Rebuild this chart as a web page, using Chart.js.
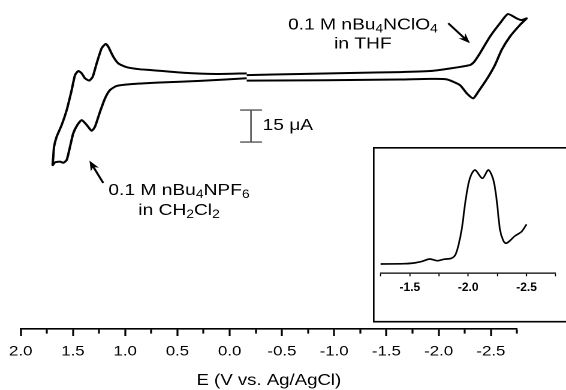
<!DOCTYPE html>
<html><head><meta charset="utf-8">
<script src="https://cdn.jsdelivr.net/npm/chart.js@4/dist/chart.umd.min.js"></script>
<style>
html,body{margin:0;padding:0;background:#fff;overflow:hidden;width:566px;height:390px;}
#main{position:absolute;left:0;top:0;width:472px;height:390px;transform:scaleX(1.19915);transform-origin:0 0;}
#inset{position:absolute;left:373px;top:147px;width:200px;height:176px;background:#fff;}
</style></head><body>
<div id="main"><canvas id="c1" width="472" height="390"></canvas></div>
<div id="inset"><canvas id="c2" width="200" height="176"></canvas></div>
<script>
// ---------- data (potential in V vs Ag/AgCl, current in µA) ----------
const ch2cl2Potential = [-0.163, 0.284, 0.667, 0.954, 1.081, 1.145, 1.193, 1.241, 1.289, 1.321, 1.368, 1.416, 1.458, 1.497, 1.528, 1.560, 1.592, 1.624, 1.672, 1.694,
  1.688, 1.681, 1.656, 1.608, 1.560, 1.512, 1.480, 1.449, 1.416, 1.385, 1.344, 1.311, 1.273, 1.225, 1.187, 1.162, 1.114, 1.066, 0.986, 0.858, 0.763, 0.444, 0.124, -0.163];
const ch2cl2Current = [-0.6, -1.8, -2.6, -3.4, -4.2, -6.1, -10.0, -16.3, -23.3, -25.2, -22.5, -20.2, -22.5, -26.4, -32.7, -38.9, -40.2, -39.7, -40.0, -41.3,
  -37.4, -32.7, -28.0, -22.5, -15.5, -6.1, 0.9, 2.8, 1.7, -0.6, -1.7, 0.1, 6.4, 13.5, 15.5, 14.2, 9.5, 6.4, 4.6, 3.6, 3.3, 2.0, 1.4, 1.7];

const thfPotential = [-0.163, -0.673, -1.151, -1.630, -1.917, -2.108, -2.300, -2.338, -2.395, -2.491, -2.587, -2.663, -2.746, -2.794, -2.842,
  -2.826, -2.778, -2.682, -2.603, -2.539, -2.475, -2.379, -2.331, -2.268, -2.204, -2.077, -1.917, -1.630, -1.151, -0.673, -0.163];
const thfCurrent = [0.9, 1.4, 1.9, 2.3, 2.8, 4.0, 5.6, 7.0, 11.1, 18.9, 25.2, 29.5, 27.5, 26.7, 27.5,
  26.7, 24.4, 18.9, 12.7, 5.6, 0.1, -6.9, -10.0, -7.6, -3.8, -1.1, -0.9, -1.2, -1.4, -1.6, -1.7];

const insetPotential = [-1.25, -1.449, -1.534, -1.606, -1.670, -1.733, -1.790, -1.855, -1.889, -1.917, -1.946, -1.974, -2.003, -2.032, -2.060, -2.122, -2.173, -2.216, -2.244, -2.273, -2.301, -2.324, -2.358, -2.400, -2.457, -2.500];
const insetCurrent = [9.3, 9.6, 10.3, 12.0, 14.3, 12.6, 14.0, 15.0, 18.3, 28.3, 45.0, 70.0, 90.0, 100.0, 103.3, 95.0, 103.3, 93.3, 73.3, 43.3, 32.6, 30.0, 32.6, 37.3, 41.6, 49.0];

const mainTickLabels = ['2.0', '1.5', '1.0', '0.5', '0.0', '-0.5', '-1.0', '-1.5', '-2.0', '-2.5'];
const insetTickLabels = ['-1.5', '-2.0', '-2.5'];

// scale bar: 15 µA
const scaleBarCurrent = 15;
const scaleBarPotential = -0.204;
const scaleBarBase = -30.5;

// ---------- helpers ----------
const FONT = '"Liberation Sans", Arial, Helvetica, sans-serif';
function pts(xs, ys) { return xs.map((v, i) => ({x: v, y: ys[i]})); }
function fmt(v) { return (Math.abs(v) < 1e-9 ? 0 : v).toFixed(1); }

const scaleBarData = [
  {x: scaleBarPotential + 0.105, y: scaleBarBase + scaleBarCurrent},
  {x: scaleBarPotential - 0.105, y: scaleBarBase + scaleBarCurrent},
  {x: scaleBarPotential, y: null},
  {x: scaleBarPotential, y: scaleBarBase + scaleBarCurrent},
  {x: scaleBarPotential, y: scaleBarBase},
  {x: scaleBarPotential, y: null},
  {x: scaleBarPotential + 0.105, y: scaleBarBase},
  {x: scaleBarPotential - 0.105, y: scaleBarBase}
];

const notes = [
  {lines: [[{t: '0.1 M nBu'}, {t: '4', sub: true}, {t: 'NClO'}, {t: '4', sub: true}], [{t: 'in THF'}]],
   x: -1.275, y: [22.36, 13.46], tail: [-2.092, 25.2], tip: [-2.300, 15.8]},
  {lines: [[{t: '0.1 M nBu'}, {t: '4', sub: true}, {t: 'NPF'}, {t: '6', sub: true}], [{t: 'in CH'}, {t: '2', sub: true}, {t: 'Cl'}, {t: '2', sub: true}]],
   x: 0.485, y: [-55.3, -64.7], tail: [1.210, -49.7], tip: [1.342, -39.2]}
];

function drawRich(ctx, segs, cx, by) {
  const base = '16px ' + FONT, small = '11.5px ' + FONT;
  let w = 0;
  segs.forEach(s => { ctx.font = s.sub ? small : base; w += ctx.measureText(s.t).width; });
  let x = cx - w / 2;
  ctx.textAlign = 'left'; ctx.textBaseline = 'alphabetic';
  segs.forEach(s => {
    ctx.font = s.sub ? small : base;
    ctx.fillText(s.t, x, by + (s.sub ? 3 : 0));
    x += ctx.measureText(s.t).width;
  });
}
function drawArrow(ctx, x1, y1, x2, y2) {
  const a = Math.atan2(y2 - y1, x2 - x1), L = 10, H = 3.8;
  const c = Math.cos(a), s = Math.sin(a);
  ctx.lineWidth = 1.8; ctx.strokeStyle = '#000'; ctx.fillStyle = '#000';
  ctx.beginPath(); ctx.moveTo(x1, y1); ctx.lineTo(x2 - c * 6, y2 - s * 6); ctx.stroke();
  ctx.beginPath();
  ctx.moveTo(x2, y2);
  ctx.lineTo(x2 - c * L - s * H, y2 - s * L + c * H);
  ctx.lineTo(x2 - c * L * 0.7, y2 - s * L * 0.7);
  ctx.lineTo(x2 - c * L + s * H, y2 - s * L - c * H);
  ctx.closePath(); ctx.fill();
}

const annotPlugin = {
  id: 'annot',
  afterDatasetsDraw(chart) {
    const {ctx} = chart, X = chart.scales.x, Y = chart.scales.y;
    ctx.save();
    ctx.fillStyle = '#000';
    notes.forEach(n => {
      n.lines.forEach((ln, i) => drawRich(ctx, ln, X.getPixelForValue(n.x), Y.getPixelForValue(n.y[i])));
      drawArrow(ctx, X.getPixelForValue(n.tail[0]), Y.getPixelForValue(n.tail[1]), X.getPixelForValue(n.tip[0]), Y.getPixelForValue(n.tip[1]));
    });
    ctx.font = '16px ' + FONT; ctx.textAlign = 'left'; ctx.textBaseline = 'alphabetic'; ctx.fillStyle = '#000';
    ctx.fillText(scaleBarCurrent + ' \u03BCA', X.getPixelForValue(-0.315), Y.getPixelForValue(-24.85));
    ctx.restore();
  }
};

const curveStyle = {showLine: true, pointRadius: 0, borderColor: '#000', borderWidth: 2.0, tension: 0.2, clip: false, fill: false};

new Chart(document.getElementById('c1'), {
  type: 'scatter',
  data: {datasets: [
    Object.assign({label: 'CH2Cl2', data: pts(ch2cl2Potential, ch2cl2Current)}, curveStyle),
    Object.assign({label: 'THF', data: pts(thfPotential, thfCurrent)}, curveStyle),
    {label: 'scale', data: scaleBarData, showLine: true, spanGaps: false, pointRadius: 0, borderColor: '#555', borderWidth: 1.3, tension: 0, clip: false}
  ]},
  options: {
    responsive: false, animation: false, devicePixelRatio: 2,
    layout: {padding: {left: 17.26, right: 40.86, top: 2, bottom: 0}},
    plugins: {legend: {display: false}, tooltip: {enabled: false}},
    scales: {
      x: {
        type: 'linear', position: 'bottom', reverse: true, min: -2.75, max: 2.0,
        afterFit: s => { s.height = 61; },
        border: {display: true, color: '#000', width: 1.6},
        grid: {display: true, drawOnChartArea: false, drawTicks: true, tickLength: 7, tickWidth: 1.6, tickColor: '#000',
          tickBorderDash: c => (c.tick && mainTickLabels.includes(fmt(c.tick.value))) ? [] : [4, 40]},
        ticks: {stepSize: 0.25, autoSkip: false, maxRotation: 0, minRotation: 0, padding: 7, color: '#000',
          font: {family: FONT, size: 14},
          callback: v => mainTickLabels.includes(fmt(v)) ? fmt(v) : ''},
        title: {display: true, text: 'E (V vs. Ag/AgCl)', color: '#000', font: {family: FONT, size: 15.5}, padding: {top: 0, bottom: 0}}
      },
      y: {display: false, min: -118.14, max: 35.16}
    }
  },
  plugins: [annotPlugin]
});

const boxPlugin = {
  id: 'box',
  afterDraw(chart) {
    const {ctx, width, height} = chart;
    ctx.save(); ctx.strokeStyle = '#000'; ctx.lineWidth = 1.6;
    ctx.beginPath(); ctx.moveTo(width + 5, 0.8); ctx.lineTo(0.8, 0.8); ctx.lineTo(0.8, height - 1.3); ctx.lineTo(width + 5, height - 1.3); ctx.stroke();
    ctx.restore();
  }
};

new Chart(document.getElementById('c2'), {
  type: 'scatter',
  data: {datasets: [
    Object.assign({label: 'inset', data: pts(insetPotential, insetCurrent)}, curveStyle, {borderWidth: 1.7, tension: 0.3})
  ]},
  options: {
    responsive: false, animation: false, devicePixelRatio: 2,
    layout: {padding: {left: 7.7, right: 17.3, top: 16.3, bottom: 0}},
    plugins: {legend: {display: false}, tooltip: {enabled: false}},
    scales: {
      x: {
        type: 'linear', position: 'bottom', reverse: true, min: -2.75, max: -1.25,
        afterFit: s => { s.height = 49.7; },
        border: {display: true, color: '#000', width: 1.3},
        grid: {display: true, drawOnChartArea: false, drawTicks: true, tickLength: 3, tickWidth: 1.2, tickColor: '#000'},
        ticks: {stepSize: 0.25, autoSkip: false, maxRotation: 0, minRotation: 0, padding: 4, color: '#000',
          font: {family: FONT, size: 12, weight: 'bold'},
          callback: v => insetTickLabels.includes(fmt(v)) ? fmt(v) : ''}
      },
      y: {display: false, min: 0, max: 110}
    }
  },
  plugins: [boxPlugin]
});
</script></body></html>
